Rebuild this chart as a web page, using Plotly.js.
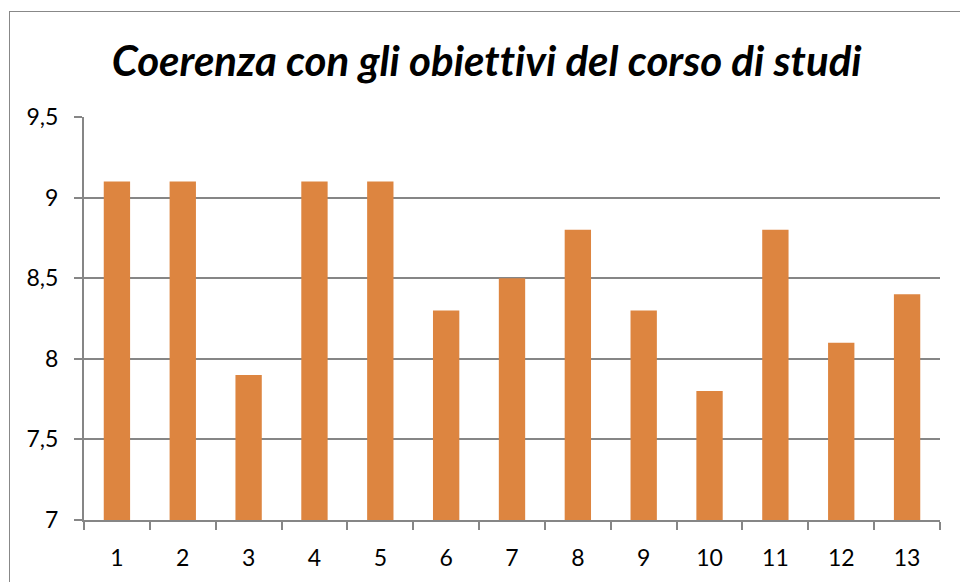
<!DOCTYPE html>
<html><head><meta charset="utf-8">
<script src="https://cdn.plot.ly/plotly-3.0.1.min.js"></script>
<style>
html,body{margin:0;padding:0;background:#fff;overflow:hidden;}
#frame{position:absolute;left:9px;top:11px;width:1000px;height:620px;border:1.5px solid #888;box-sizing:border-box;pointer-events:none;}
#chart{position:absolute;left:0;top:0;width:960px;height:582px;}
#chart text{font-variant-ligatures:none;font-feature-settings:"liga" 0;}
</style></head>
<body>
<div id="chart"></div>
<div id="frame"></div>
<script>
const categories = ['1','2','3','4','5','6','7','8','9','10','11','12','13'];
const values = [9.1, 9.1, 7.9, 9.1, 9.1, 8.3, 8.5, 8.8, 8.3, 7.8, 8.8, 8.1, 8.4];
const yTicks = [7, 7.5, 8, 8.5, 9, 9.5];

const trace = {
  type: 'bar', x: categories, y: values,
  marker: {color: '#DD8540'},
  hoverinfo: 'none'
};
const layout = {
  width: 960, height: 582,
  paper_bgcolor: 'rgba(0,0,0,0)', plot_bgcolor: 'rgba(0,0,0,0)',
  margin: {l: 84, r: 20, t: 117, b: 62},
  separators: ',.',
  bargap: 0.6,
  showlegend: false,
  title: {
    text: '<b><i>Coerenza con gli obiettivi del corso di studi</i></b>',
    font: {family: 'Lato, sans-serif', size: 42, color: '#000'},
    x: 0.507, xanchor: 'center', y: 0.895, yanchor: 'middle'
  },
  xaxis: {
    type: 'category', tickson: 'boundaries',
    ticks: 'outside', ticklen: 8, tickwidth: 2, tickcolor: '#868686',
    showline: true, linecolor: '#868686', linewidth: 2,
    showgrid: false,
    tickfont: {family: 'Lato, sans-serif', size: 23, color: '#000'},
    ticklabelstandoff: 16
  },
  yaxis: {
    range: [7, 9.5], tickvals: yTicks,
    ticks: 'outside', ticklen: 8, tickwidth: 2, tickcolor: '#868686',
    showline: true, linecolor: '#868686', linewidth: 2,
    showgrid: true, gridcolor: '#868686', gridwidth: 2,
    zeroline: false,
    tickfont: {family: 'Lato, sans-serif', size: 23, color: '#000'},
    ticklabelstandoff: 11
  }
};
Plotly.newPlot('chart', [trace], layout, {staticPlot: true, displayModeBar: false});
</script>
</body></html>
